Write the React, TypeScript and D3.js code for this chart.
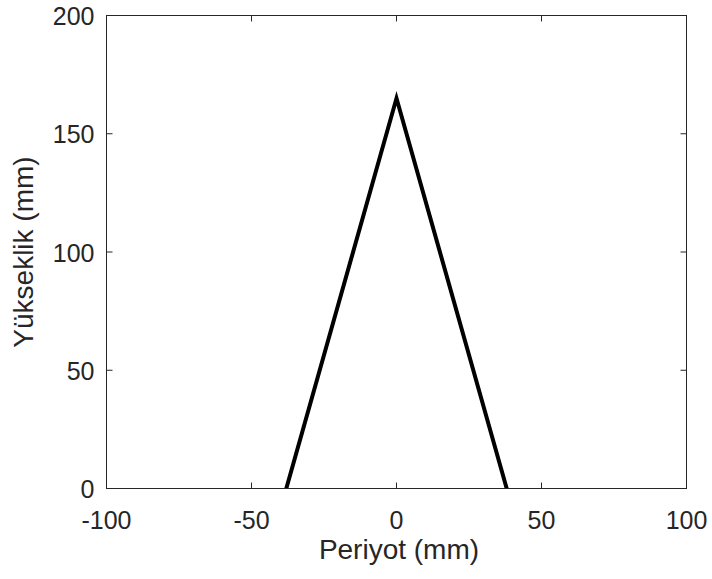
import React from 'react';
import * as d3 from 'd3';

const periyot = [-38, 0, 38];
const yukseklik = [0, 165, 0];
const xTicks = [-100, -50, 0, 50, 100];
const yTicks = [0, 50, 100, 150, 200];

const W = 712;
const H = 579;
const m = { left: 106.5, right: 686.5, top: 15.5, bottom: 488.5 };
const axisColor = '#262626';
const font = 'Liberation Sans, Arial, sans-serif';

export default function App() {
  const x = d3.scaleLinear().domain([-100, 100]).range([m.left, m.right]);
  const y = d3.scaleLinear().domain([0, 200]).range([m.bottom, m.top]);
  const pts = periyot.map((p, i) => [p, yukseklik[i]] as [number, number]);
  const line = d3.line<[number, number]>().x(d => x(d[0])).y(d => y(d[1]));
  const tl = 6;

  return (
    <svg width={W} height={H} style={{ position: 'absolute', left: 0, top: 0, background: '#fff' }}>
      <rect x={0} y={0} width={W} height={H} fill="#fff" />
      <path d={line(pts) || ''} fill="none" stroke="#000" strokeWidth={4} strokeLinejoin="miter" />
      <rect x={m.left} y={m.top} width={m.right - m.left} height={m.bottom - m.top}
        fill="none" stroke={axisColor} strokeWidth={1} />
      {xTicks.map(t => (
        <g key={'x' + t}>
          <line x1={x(t)} x2={x(t)} y1={m.bottom} y2={m.bottom - tl} stroke={axisColor} />
          <line x1={x(t)} x2={x(t)} y1={m.top} y2={m.top + tl} stroke={axisColor} />
          <text x={x(t)} y={m.bottom + 40} textAnchor="middle" fontFamily={font} fontSize={25} fill={axisColor}>{t}</text>
        </g>
      ))}
      {yTicks.map(t => (
        <g key={'y' + t}>
          <line x1={m.left} x2={m.left + tl} y1={y(t)} y2={y(t)} stroke={axisColor} />
          <line x1={m.right} x2={m.right - tl} y1={y(t)} y2={y(t)} stroke={axisColor} />
          <text x={m.left - 12} y={y(t) + 9.5} textAnchor="end" fontFamily={font} fontSize={25} fill={axisColor}>{t}</text>
        </g>
      ))}
      <text x={399} y={559} textAnchor="middle" fontFamily={font} fontSize={28} fill={axisColor}>Periyot (mm)</text>
      <text transform={`translate(33, ${(m.top + m.bottom) / 2}) rotate(-90)`} textAnchor="middle"
        fontFamily={font} fontSize={28} fill={axisColor}>Yükseklik (mm)</text>
    </svg>
  );
}
